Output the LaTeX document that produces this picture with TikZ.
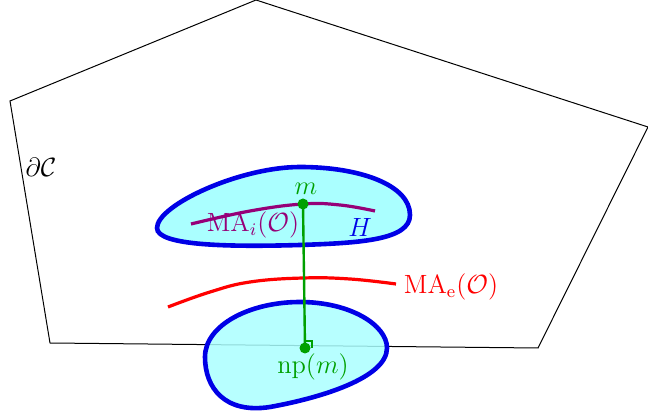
\documentclass[tikz,border=0pt]{standalone}
\usepackage{amsmath}
\usetikzlibrary{calc}
\begin{document}
\begin{tikzpicture}[x=0.5pt,y=-0.5pt,
  blobfill/.style={fill={rgb,255:red,170;green,255;blue,255}},
  blobline/.style={draw={rgb,255:red,0;green,0;blue,230},line width=2.3pt},
  lbl/.style={font=\fontsize{12}{14}\selectfont,inner sep=1pt,scale=1.1},
  dot/.style={circle,fill=grn,inner sep=0pt,minimum size=5.5pt}]
\definecolor{grn}{RGB}{0,160,0}
\definecolor{purp}{RGB}{150,0,120}
\useasboundingbox (0,0) rectangle (648,416);
% polygon boundary
\draw[line width=0.5pt] (10,101) -- (256,0) -- (648,127) -- (538,348) -- (50,343) -- cycle;
\node[lbl,anchor=center] (dC) at (41,167) {$\partial\mathcal{C}$};
% upper blob H
\path[blobfill,blobline] (157,228) .. controls (157,205) and (240,167) .. (300,167)
  .. controls (360,167) and (410,185) .. (410,215)
  .. controls (410,240) and (360,243) .. (300,245)
  .. controls (230,247) and (157,246) .. (157,228) -- cycle;
% lower blob
\fill[blobfill,fill opacity=0.85] (300,302) .. controls (350,302) and (387,325) .. (387,348)
  .. controls (387,378) and (320,398) .. (270,407)
  .. controls (225,414) and (205,388) .. (205,357)
  .. controls (205,325) and (250,302) .. (300,302) -- cycle;
\draw[blobline] (300,302) .. controls (350,302) and (387,325) .. (387,348)
  .. controls (387,378) and (320,398) .. (270,407)
  .. controls (225,414) and (205,388) .. (205,357)
  .. controls (205,325) and (250,302) .. (300,302) -- cycle;
% medial axes
\draw[purp,line width=1.6pt] plot[smooth,tension=0.7] coordinates {(191,224) (250,211) (303,204) (340,205) (375,211)};
\draw[red,line width=1.6pt] plot[smooth,tension=0.7] coordinates {(168,307) (210,292) (250,282) (303,278) (350,279) (396,284)};
% points
\coordinate (m) at (303,204);
\coordinate (np) at (305,348);
\draw[grn,line width=1.2pt] (m) -- (np);
\draw[grn,line width=0.8pt] ($(np)+(0,-7)$) -- ($(np)+(7,-7)$) -- ($(np)+(7,0)$);
\node[dot] (md) at (m) {};
\node[dot] (npd) at (np) {};
% labels
\node[lbl,text=grn] (ml) at (306,189) {$m$};
\node[lbl,text=grn] (npl) at (313,367) {$\mathrm{np}(m)$};
\node[lbl,text=purp] (mai) at (253,225) {$\mathrm{MA}_i(\mathcal{O})$};
\node[lbl,text={rgb,255:red,0;green,0;blue,230}] (H) at (360,227) {$H$};
\node[lbl,text=red] (mae) at (451,287) {$\mathrm{MA}_{\mathrm{e}}(\mathcal{O})$};
\end{tikzpicture}
\end{document}
